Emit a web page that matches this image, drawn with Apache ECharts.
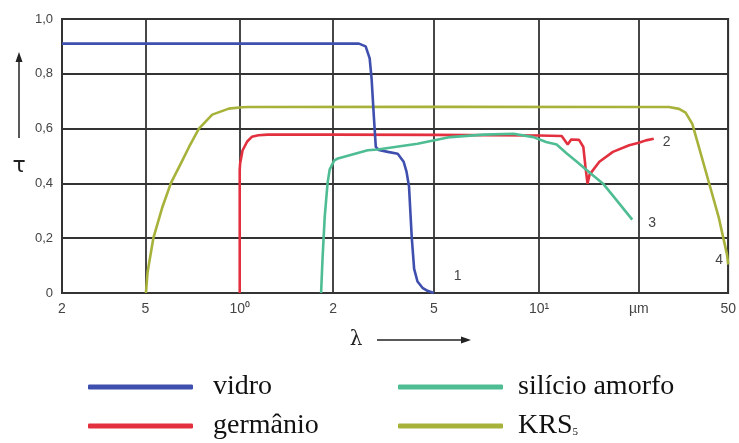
<!DOCTYPE html>
<html>
<head>
<meta charset="utf-8">
<title>Transmitância espectral</title>
<script src="https://cdn.jsdelivr.net/npm/echarts@6/dist/echarts.min.js"></script>
<style>
  html, body { margin: 0; padding: 0; background: #fff; }
  #chart { width: 739px; height: 443px; }
</style>
</head>
<body>
<div id="chart"></div>
<script>
// Wavelength grid (µm): each step between neighbouring grid lines is
// logarithmic inside, and the steps are drawn with the widths below.
const tickLambda = [0.2, 0.5, 1, 2, 5, 10, 20, 50];
const tickLabels = ['2', '5', '10\u2070', '2', '5', '10\u00b9', '\u00b5m', '50'];
const tauTicks = [0, 0.2, 0.4, 0.6, 0.8, 1.0];

const seriesNames = ['vidro', 'germânio', 'silício amorfo', 'KRS5'];
const curveNumbers = ['1', '2', '3', '4'];

// vidro (1)
const vidroLambda = [0.2, 2.53, 2.69, 2.79, 2.84, 2.90, 2.95, 3.03, 3.29, 3.60, 3.80, 3.90, 3.99, 4.04, 4.09, 4.18, 4.31, 4.51, 4.72, 5.0];
const vidroTau    = [0.91, 0.91, 0.90, 0.856, 0.781, 0.640, 0.533, 0.522, 0.515, 0.508, 0.479, 0.443, 0.389, 0.296, 0.204, 0.088, 0.042, 0.019, 0.008, 0];

// germânio (2)
const germanioLambda = [1.0, 1.0, 1.003, 1.021, 1.057, 1.094, 1.149, 1.231, 2.0, 5.0, 10.0, 11.7, 12.2, 12.5, 13.2, 13.6, 13.8, 14.0, 14.2, 15.2, 16.7, 18.7, 20.0, 21.5, 23.3];
const germanioTau    = [0, 0.45, 0.473, 0.52, 0.553, 0.570, 0.576, 0.578, 0.578, 0.577, 0.575, 0.573, 0.542, 0.560, 0.559, 0.533, 0.461, 0.399, 0.432, 0.479, 0.515, 0.539, 0.548, 0.557, 0.563];

// silício amorfo (3)
const silicioLambda = [1.83, 1.85, 1.88, 1.92, 1.95, 2.02, 2.09, 2.74, 3.00, 4.31, 5.57, 6.95, 8.45, 9.63, 10.5, 11.3, 12.1, 13.0, 14.2, 15.6, 17.1, 19.1];
const silicioTau    = [0, 0.127, 0.278, 0.401, 0.450, 0.483, 0.491, 0.521, 0.524, 0.545, 0.569, 0.578, 0.581, 0.569, 0.551, 0.542, 0.51, 0.479, 0.44, 0.399, 0.340, 0.268];

// KRS5 (4)
const krsLambda = [0.502, 0.508, 0.530, 0.567, 0.603, 0.649, 0.689, 0.741, 0.817, 0.923, 1.017, 1.069, 5.0, 20.0, 27.2, 30.2, 32.3, 34.6, 37.0, 40.9, 45.3, 49.4, 50.0];
const krsTau    = [0, 0.076, 0.2, 0.315, 0.401, 0.473, 0.533, 0.6, 0.651, 0.673, 0.678, 0.679, 0.68, 0.679, 0.679, 0.672, 0.658, 0.617, 0.533, 0.407, 0.278, 0.140, 0.104];

const colors = ['#3f4fae', '#e2303f', '#4fbd93', '#a7b23a'];

// relative widths of the seven grid steps along the λ axis
const stepWidths = [84, 95, 94, 101.5, 106, 100.5, 90];
const tickPos = stepWidths.reduce((acc, w) => { acc.push(acc[acc.length - 1] + w); return acc; }, [0]);

function lambdaToAxis(l) {
  const n = tickLambda.length;
  for (let i = 0; i < n - 1; i++) {
    if (l <= tickLambda[i + 1] || i === n - 2) {
      const frac = Math.log(l / tickLambda[i]) / Math.log(tickLambda[i + 1] / tickLambda[i]);
      return tickPos[i] + frac * stepWidths[i];
    }
  }
}

function pairs(xs, ys) {
  return xs.map((l, i) => [lambdaToAxis(l), ys[i]]);
}

const curves = [
  pairs(vidroLambda, vidroTau),
  pairs(germanioLambda, germanioTau),
  pairs(silicioLambda, silicioTau),
  pairs(krsLambda, krsTau)
];

// placement of the curve numbers next to each curve's end
const numberOffsets = [[12, -17], [1, 3], [8, 4], [-21, -4]];

const gridColor = '#333';
const sans = '"Liberation Sans", Arial, sans-serif';
const serif = '"Liberation Serif", "Times New Roman", serif';

// legend: two columns of two entries
const legendSlots = [
  { left: 83, top: 368 },
  { left: 83, top: 407 },
  { left: 393, top: 368 },
  { left: 393, top: 407 }
];
const legendTextGap = [15, 15, 10, 10];

const chart = echarts.init(document.getElementById('chart'));

chart.setOption({
  animation: false,
  backgroundColor: '#fff',
  color: colors,
  grid: {
    left: 62, right: 6, top: 19, bottom: 150,
    show: true, borderColor: gridColor, borderWidth: 1.8
  },
  xAxis: {
    type: 'value',
    min: 0, max: tickPos[tickPos.length - 1],
    axisLine: { show: true, lineStyle: { color: gridColor, width: 1.8 } },
    axisTick: { show: false, customValues: tickPos },
    splitLine: { show: true, lineStyle: { color: gridColor, width: 1.8 } },
    axisLabel: {
      customValues: tickPos,
      margin: 9,
      color: '#444',
      fontSize: 14,
      fontFamily: sans,
      formatter: v => {
        const i = tickPos.findIndex(p => Math.abs(p - v) < 1e-6);
        return i >= 0 ? tickLabels[i] : '';
      }
    }
  },
  yAxis: {
    type: 'value',
    min: tauTicks[0], max: tauTicks[tauTicks.length - 1], interval: 0.2,
    axisLine: { show: true, lineStyle: { color: gridColor, width: 1.8 } },
    axisTick: { show: false },
    splitLine: { show: true, lineStyle: { color: gridColor, width: 1.8 } },
    axisLabel: {
      margin: 9,
      color: '#444',
      fontSize: 13,
      fontFamily: sans,
      formatter: v => v === 0 ? '0' : v.toFixed(1).replace('.', ',')
    }
  },
  legend: seriesNames.map((name, i) => ({
    data: [name],
    orient: 'horizontal',
    left: legendSlots[i].left,
    top: legendSlots[i].top,
    itemWidth: 105,
    itemHeight: 5,
    icon: 'roundRect',
    formatter: n => n === 'KRS5' ? '{a|KRS}{b|5}' : n,
    textStyle: {
      fontFamily: serif, fontSize: 28, color: '#111',
      padding: [0, 0, 0, legendTextGap[i]],
      rich: {
        a: { fontFamily: serif, fontSize: 28, color: '#111' },
        b: { fontFamily: serif, fontSize: 11, color: '#111', verticalAlign: 'bottom', padding: [0, 0, 2, 0] }
      }
    }
  })),
  series: curves.map((data, i) => ({
    name: seriesNames[i],
    type: 'line',
    data: data,
    showSymbol: false,
    symbol: 'none',
    clip: false,
    lineStyle: { width: 2.6, color: colors[i] },
    itemStyle: { color: colors[i] },
    z: [3, 2, 4, 1][i],
    endLabel: {
      show: true,
      formatter: curveNumbers[i],
      color: '#444',
      fontSize: 14,
      fontFamily: sans,
      offset: numberOffsets[i]
    }
  })),
  graphic: [
    { type: 'text', x: 19, y: 166, style: { text: 'τ', font: '22px "DejaVu Sans"', fill: '#222', textAlign: 'center', textVerticalAlign: 'middle' } },
    { type: 'line', shape: { x1: 19, y1: 138, x2: 19, y2: 60 }, style: { stroke: '#222', lineWidth: 1.5 } },
    { type: 'polygon', shape: { points: [[19, 52], [15.5, 62], [22.5, 62]] }, style: { fill: '#222' } },
    { type: 'text', x: 356, y: 340, style: { text: 'λ', font: '20px "DejaVu Serif"', fill: '#222', textAlign: 'center', textVerticalAlign: 'middle' } },
    { type: 'line', shape: { x1: 377, y1: 340, x2: 463, y2: 340 }, style: { stroke: '#222', lineWidth: 1.5 } },
    { type: 'polygon', shape: { points: [[471, 340], [461, 336.5], [461, 343.5]] }, style: { fill: '#222' } }
  ]
});
</script>
</body>
</html>
